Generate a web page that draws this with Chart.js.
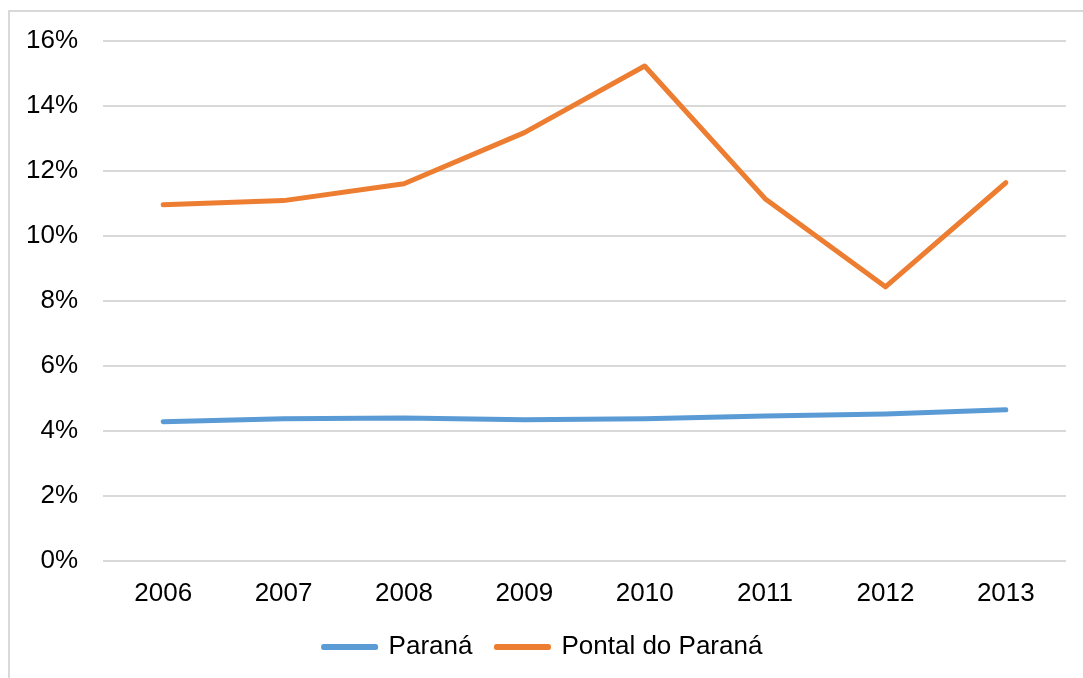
<!DOCTYPE html>
<html>
<head>
<meta charset="utf-8">
<script src="https://cdn.jsdelivr.net/npm/chart.js@4/dist/chart.umd.min.js"></script>
<style>
  html, body { margin: 0; padding: 0; background: #fff; }
  #frame {
    position: absolute; left: 8px; top: 10px; width: 1100px; height: 700px;
    border-left: 2px solid #d9d9d9; border-top: 2px solid #d9d9d9;
  }
  #wrap { position: absolute; left: 0; top: 0; width: 1083px; height: 678px; }
</style>
</head>
<body>
<div id="frame"></div>
<div id="wrap"><canvas id="chart"></canvas></div>
<script>
// years on the x axis
const years = ['2006', '2007', '2008', '2009', '2010', '2011', '2012', '2013'];

// shares in percent
const parana = [4.28, 4.37, 4.40, 4.34, 4.37, 4.46, 4.52, 4.65];
const pontalDoParana = [10.95, 11.08, 11.60, 13.17, 15.22, 11.14, 8.43, 11.63];

const yMin = 0;
const yMax = 16;
const yStep = 2;

const labelFont = { family: 'Liberation Sans, Arial, sans-serif', size: 26 };

const ctx = document.getElementById('chart').getContext('2d');
new Chart(ctx, {
    type: 'line',
    data: {
        labels: years,
        datasets: [
            {
                label: 'Paraná',
                data: parana,
                borderColor: '#5b9bd5',
                backgroundColor: '#5b9bd5',
                borderWidth: 5,
                borderCapStyle: 'round',
                borderJoinStyle: 'round',
                pointRadius: 0,
                tension: 0
            },
            {
                label: 'Pontal do Paraná',
                data: pontalDoParana,
                borderColor: '#ed7d31',
                backgroundColor: '#ed7d31',
                borderWidth: 5,
                borderCapStyle: 'round',
                borderJoinStyle: 'round',
                pointRadius: 0,
                tension: 0
            }
        ]
    },
    options: {
        responsive: true,
        maintainAspectRatio: false,
        animation: false,
        layout: { padding: { top: 40, right: 17, left: 20, bottom: 8 } },
        plugins: {
            tooltip: { enabled: false },
            legend: {
                position: 'bottom',
                labels: {
                    font: labelFont,
                    color: '#000',
                    boxWidth: 52,
                    boxHeight: 1,
                    padding: 24
                }
            }
        },
        scales: {
            x: {
                offset: true,
                grid: { display: false, drawTicks: false },
                border: { display: false },
                ticks: { font: labelFont, color: '#000', padding: 17, maxRotation: 0 },
                afterFit: axis => { axis.height = 49; }
            },
            y: {
                min: yMin,
                max: yMax,
                grid: { color: '#d9d9d9', lineWidth: 2, drawTicks: false },
                border: { display: false },
                ticks: {
                    stepSize: yStep,
                    font: labelFont,
                    color: '#000',
                    padding: 25,
                    callback: v => v + '%'
                },
                afterFit: axis => { axis.width = 83; }
            }
        }
    }
});
</script>
</body>
</html>
